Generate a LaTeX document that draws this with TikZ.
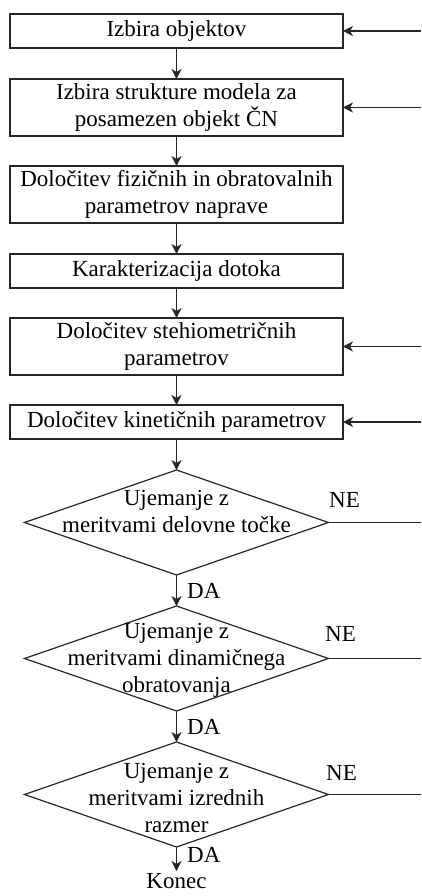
\documentclass[tikz,border=0pt]{standalone}
\usepackage{fontspec}
\setmainfont{Liberation Serif}
\usepackage{tikz}
\usetikzlibrary{positioning,arrows.meta,shapes.geometric,calc}
\definecolor{inkline}{HTML}{262626}
\tikzset{
  >={Stealth[length=10pt,width=10pt,inset=3pt]},
  every node/.style={font=\fontsize{23pt}{27pt}\selectfont, text=black},
  stepbox/.style={draw=inkline, line width=1.4pt, outer sep=0pt, align=center, minimum width=333pt, minimum height=34pt, inner sep=1pt},
  tallbox/.style={stepbox, minimum height=57pt},
  dec/.style={draw=inkline, line width=1.2pt, outer sep=0pt, diamond, aspect=2.9, minimum width=304pt, minimum height=105pt, inner sep=0pt},
  dectxt/.style={align=center, inner sep=0pt},
  flow/.style={->, line width=1.3pt, draw=inkline},
  lbl/.style={inner sep=1pt},
}

\begin{document}
\begin{tikzpicture}
  \useasboundingbox (0,0) rectangle (421pt,-896pt);
  \coordinate (rim) at (421pt,0);

  \node[stepbox] (obj) at (176.5pt,-31pt) {Izbira objektov};
  \node[tallbox, below=31pt of obj] (struct) {Izbira strukture modela za\\posamezen objekt ČN};
  \node[tallbox, below=30pt of struct] (fiz) {Določitev fizičnih in obratovalnih\\parametrov naprave};
  \node[stepbox, below=31pt of fiz] (dotok) {Karakterizacija dotoka};
  \node[tallbox, below=30pt of dotok] (steh) {Določitev stehiometričnih\\parametrov};
  \node[stepbox, below=30pt of steh] (kin) {Določitev kinetičnih parametrov};

  \node[dec, below=31pt of kin] (d1) {};
  \node[dec, below=31pt of d1] (d2) {};
  \node[dec, below=31pt of d2] (d3) {};
  \node[dectxt, yshift=11pt] (t1) at (d1) {Ujemanje z\\meritvami delovne točke};
  \node[dectxt, yshift=-2pt] (t2) at (d2) {Ujemanje z\\meritvami dinamičnega\\obratovanja};
  \node[dectxt, yshift=-3pt] (t3) at (d3) {Ujemanje z\\meritvami izrednih\\razmer};
  \node[lbl, below=24pt of d3, inner ysep=2pt] (konec) {Konec};

  \draw[flow] (obj) -- (struct);
  \draw[flow] (struct) -- (fiz);
  \draw[flow] (fiz) -- (dotok);
  \draw[flow] (dotok) -- (steh);
  \draw[flow] (steh) -- (kin);
  \draw[flow] (kin) -- (d1);
  \draw[flow] (d1) -- (d2) node[midway, lbl, anchor=west, xshift=9pt] {DA};
  \draw[flow] (d2) -- (d3) node[midway, lbl, anchor=west, xshift=9pt] {DA};
  \draw[flow] (d3) -- (konec) node[pos=0.35, lbl, anchor=west, xshift=9pt] {DA};

  % povratne veje z desnega roba
  \draw[flow, <-] (obj.east) -- (obj.east -| rim);
  \draw[flow, <-] (struct.east) -- (struct.east -| rim);
  \draw[flow, <-] (steh.east) -- (steh.east -| rim);
  \draw[flow, <-] (kin.east) -- (kin.east -| rim);
  \draw[flow, -] (d1.east) -- (d1.east -| rim) node[at start, lbl, anchor=south west, xshift=-1pt, yshift=13pt] {NE};
  \draw[flow, -] (d2.east) -- (d2.east -| rim) node[at start, lbl, anchor=south west, xshift=-5pt, yshift=15pt] {NE};
  \draw[flow, -] (d3.east) -- (d3.east -| rim) node[at start, lbl, anchor=south west, xshift=-4pt, yshift=12pt] {NE};
\end{tikzpicture}
\end{document}
